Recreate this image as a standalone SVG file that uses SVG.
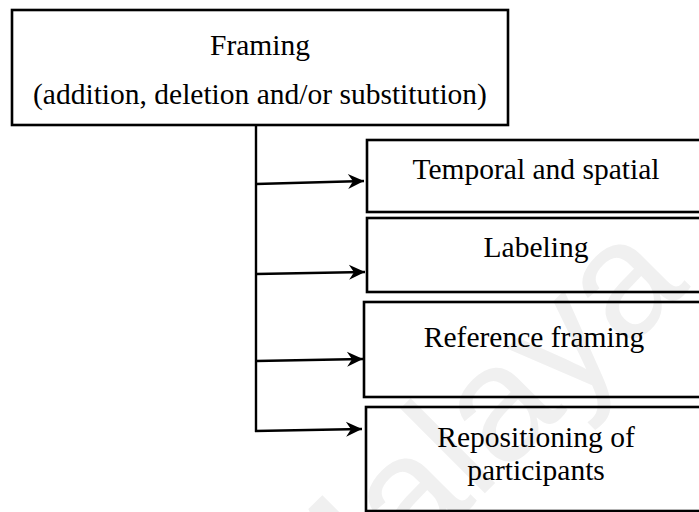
<svg xmlns="http://www.w3.org/2000/svg" width="699" height="512" viewBox="0 0 699 512">
<style>
.box{fill:none;stroke:#000;stroke-width:2.6}
.t{font-family:"Liberation Serif","Times New Roman",serif;font-size:29.5px;fill:#000;text-anchor:middle}
.c{fill:none;stroke:#000;stroke-width:2.4}
.wm{font-family:"Liberation Sans",Arial,sans-serif;font-size:165px;fill:#f0f0f0;text-anchor:middle}
</style>
<defs>
<marker id="ah" markerUnits="userSpaceOnUse" markerWidth="18" markerHeight="18" viewBox="-17 -9 18 18" refX="0" refY="0" orient="auto">
<path d="M0,0 L-16,-7.5 L-11,0 L-16,7.5 Z" fill="#000"/>
</marker>
</defs>
<rect width="699" height="512" fill="#fff"/>
<text class="wm" transform="translate(503,475) rotate(-45)">Malaya</text>
<g id="framing">
<rect class="box" x="12" y="10" width="496" height="115"/>
<text class="t" x="260" y="55">Framing</text>
<text class="t" x="260" y="104">(addition, deletion and/or substitution)</text>
</g>
<g id="temporal">
<rect class="box" x="367" y="140" width="345" height="72"/>
<text class="t" x="536" y="179">Temporal and spatial</text>
</g>
<g id="labeling">
<rect class="box" x="367" y="218" width="345" height="74"/>
<text class="t" x="536" y="257">Labeling</text>
</g>
<g id="reference">
<rect class="box" x="364" y="302" width="348" height="95"/>
<text class="t" x="534" y="347">Reference framing</text>
</g>
<g id="repositioning">
<rect class="box" x="366" y="407" width="346" height="104"/>
<text class="t" x="536" y="447">Repositioning of</text>
<text class="t" x="536" y="480">participants</text>
</g>
<g id="connectors">
<path class="c" d="M256,125 L256,432"/>
<path class="c" d="M256,184 L364,181" marker-end="url(#ah)"/>
<path class="c" d="M256,274 L365,272" marker-end="url(#ah)"/>
<path class="c" d="M256,361 L363,359" marker-end="url(#ah)"/>
<path class="c" d="M255,431 L362,429" marker-end="url(#ah)"/>
</g>
</svg>
